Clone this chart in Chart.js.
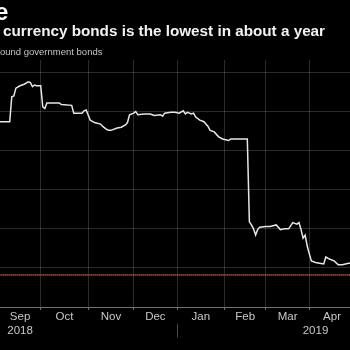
<!DOCTYPE html>
<html>
<head>
<meta charset="utf-8">
<script src="https://cdn.jsdelivr.net/npm/chart.js@4"></script>
<style>
  body { margin: 0; background: #000; width: 350px; height: 350px; overflow: hidden; position: relative;
         font-family: "Liberation Sans", Arial, sans-serif; }
  canvas { position: absolute; left: 0; top: 0; }
  .t { position: absolute; white-space: nowrap; line-height: 1; }
  #head { left: -5px; top: 0; font-size: 24px; font-weight: bold; color: #fff; }
  #title { left: 3px; top: 23px; font-size: 15.25px; font-weight: bold; color: #f2f2f2; }
  #sub { left: 0; top: 47px; font-size: 9.5px; color: #c4c4c4; }
</style>
</head>
<body>
<canvas id="chart" width="350" height="350"></canvas>
<div class="t" id="head">e</div>
<div class="t" id="title">currency bonds is the lowest in about a year</div>
<div class="t" id="sub">ound government bonds</div>
<script>
const dates = [
  '2018-09-03', '2018-09-10', '2018-09-11', '2018-09-12', '2018-09-13', '2018-09-17', '2018-09-19',
  '2018-09-21', '2018-09-24', '2018-09-25', '2018-09-26', '2018-09-27', '2018-10-01', '2018-10-02',
  '2018-10-03', '2018-10-04', '2018-10-10', '2018-10-12', '2018-10-15', '2018-10-22', '2018-10-23',
  '2018-10-29', '2018-10-30', '2018-10-31', '2018-11-02', '2018-11-06', '2018-11-09', '2018-11-12',
  '2018-11-14', '2018-11-15', '2018-11-16', '2018-11-21', '2018-11-23', '2018-11-27', '2018-11-28',
  '2018-11-29', '2018-12-03', '2018-12-04', '2018-12-05', '2018-12-10', '2018-12-13', '2018-12-17',
  '2018-12-20', '2018-12-21', '2018-12-24', '2018-12-27', '2018-12-31', '2019-01-02', '2019-01-04',
  '2019-01-07', '2019-01-08', '2019-01-10', '2019-01-11', '2019-01-14', '2019-01-16', '2019-01-18',
  '2019-01-22', '2019-01-23', '2019-01-25', '2019-01-29', '2019-01-31', '2019-02-05', '2019-02-06',
  '2019-02-18', '2019-02-19', '2019-02-20', '2019-02-21', '2019-02-22', '2019-02-25', '2019-02-26',
  '2019-03-01', '2019-03-05', '2019-03-08', '2019-03-12', '2019-03-14', '2019-03-18', '2019-03-20',
  '2019-03-22', '2019-03-25', '2019-03-26', '2019-03-27', '2019-03-28', '2019-03-29', '2019-04-01',
  '2019-04-02', '2019-04-04', '2019-04-08', '2019-04-10', '2019-04-11', '2019-04-15', '2019-04-17',
  '2019-04-19', '2019-04-23', '2019-04-26', '2019-04-29'
];
const yields = [
  18.37, 18.37, 18.69, 18.70, 18.80, 18.83, 18.85,
  18.88, 18.87, 18.82, 18.84, 18.83, 18.83, 18.56,
  18.54, 18.61, 18.61, 18.61, 18.59, 18.58, 18.48,
  18.48, 18.51, 18.52, 18.39, 18.36, 18.34, 18.31,
  18.27, 18.26, 18.26, 18.29, 18.30, 18.33, 18.36,
  18.46, 18.48, 18.50, 18.46, 18.47, 18.47, 18.45,
  18.46, 18.44, 18.48, 18.49, 18.49, 18.48, 18.51,
  18.47, 18.49, 18.47, 18.48, 18.43, 18.39, 18.37,
  18.31, 18.26, 18.24, 18.18, 18.15, 18.13, 18.15,
  18.15, 17.09, 17.05, 17.00, 16.92, 16.99, 17.02,
  17.03, 17.03, 17.05, 16.99, 17.00, 17.00, 17.08,
  17.06, 17.08, 16.99, 16.88, 16.92, 16.78, 16.68,
  16.59, 16.57, 16.56, 16.55, 16.64, 16.61, 16.59,
  16.54, 16.54, 16.56, 16.56
];
const yearAgoLow = 16.41;

const monthStarts = ['2018-09-01', '2018-10-01', '2018-11-01', '2018-12-01', '2019-01-01',
                     '2019-02-01', '2019-03-01', '2019-04-01', '2019-05-01'];
const monthNames = ['Sep', 'Oct', 'Nov', 'Dec', 'Jan', 'Feb', 'Mar', 'Apr'];
const yearNames = ['2018', '2019'];
const yearAt = ['2018-09-17', '2019-04-04'];

// trading-day index counted from Mon 3 Sep 2018; weekend dates roll to the next Monday
function bizDay(s) {
  const d = (Date.parse(s) - Date.parse('2018-09-03')) / 864e5;
  const w = Math.floor(d / 7);
  return w * 5 + Math.min(d - w * 7, 5);
}

const bounds = monthStarts.map(bizDay);
const mids = monthNames.map((m, i) => (bounds[i] + bounds[i + 1]) / 2);
const yearPos = yearAt.map(bizDay);

const gridColor = 'rgba(255,255,255,0.17)';
const tickFont = { family: '"Liberation Sans", Arial, sans-serif', size: 11.5 };
const xRange = { type: 'linear', position: 'bottom', min: 0.3, max: 169.7 };

const labelAxis = (values, names, weight) => ({
  ...xRange,
  weight,
  afterBuildTicks: s => { s.ticks = values.map(v => ({ value: v })); },
  grid: { display: false, drawTicks: false },
  border: { display: false },
  ticks: {
    color: '#c8c8c8', font: tickFont, padding: 0, maxRotation: 0, autoSkip: false,
    callback: (v, i) => names[i]
  }
});

// small divider between the two year labels, at the new year
const yearDivider = {
  id: 'yearDivider',
  afterDraw(chart) {
    const s = chart.scales.xy;
    const x = Math.round(chart.scales.x.getPixelForValue(bizDay('2019-01-01'))) + 0.5;
    const ctx = chart.ctx;
    ctx.save();
    ctx.strokeStyle = '#4a4a4a';
    ctx.lineWidth = 1;
    ctx.beginPath();
    ctx.moveTo(x, s.top);
    ctx.lineTo(x, s.bottom);
    ctx.stroke();
    ctx.restore();
  }
};

new Chart(document.getElementById('chart'), {
  type: 'line',
  data: {
    datasets: [
      {
        data: dates.map((d, i) => ({ x: bizDay(d), y: yields[i] })),
        borderColor: '#e6e6e6',
        borderWidth: 1.5,
        pointRadius: 0,
        tension: 0
      },
      {
        data: [{ x: 0, y: yearAgoLow }, { x: 175, y: yearAgoLow }],
        borderColor: '#d9583c',
        borderWidth: 2,
        borderDash: [1, 1],
        pointRadius: 0
      }
    ]
  },
  options: {
    responsive: false,
    animation: false,
    layout: { padding: { top: 60, bottom: 12.4, left: 0, right: 0 } },
    plugins: { legend: { display: false }, tooltip: { enabled: false } },
    scales: {
      x: {
        ...xRange,
        weight: 0,
        afterBuildTicks: s => { s.ticks = bounds.slice(1, -1).map(v => ({ value: v })); },
        grid: { color: gridColor, tickLength: 3, tickColor: '#707070' },
        border: { color: '#707070' },
        ticks: { display: false }
      },
      xm: labelAxis(mids, monthNames, 1),
      xy: labelAxis(yearPos, yearNames, 2),
      y: {
        min: 16,
        max: 19.16,
        ticks: { display: false, stepSize: 0.5, includeBounds: false },
        grid: { color: gridColor, drawTicks: false },
        border: { display: false }
      }
    }
  },
  plugins: [yearDivider]
});
</script>
</body>
</html>
